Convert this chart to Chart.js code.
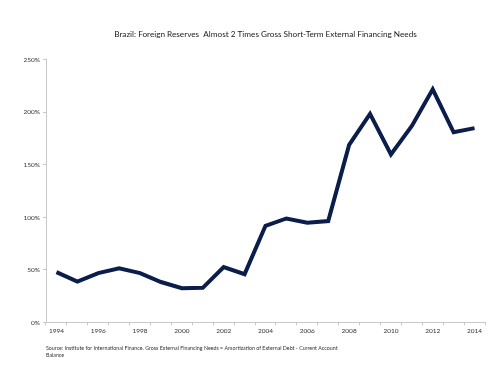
<!DOCTYPE html>
<html>
<head>
<meta charset="utf-8">
<script src="https://cdn.jsdelivr.net/npm/chart.js@4/dist/chart.umd.min.js"></script>
<style>
  html, body { margin: 0; padding: 0; background: #fff; }
  #chart { display: block; }
</style>
</head>
<body>
<canvas id="chart" width="500" height="375"></canvas>
<script>
// data
var years = ['1994', '1995', '1996', '1997', '1998', '1999', '2000', '2001', '2002', '2003', '2004',
             '2005', '2006', '2007', '2008', '2009', '2010', '2011', '2012', '2013', '2014'];
var reserveRatio = [48, 39, 47, 51.5, 47, 38.5, 32.7, 33, 52.8, 46, 92,
                    99, 95, 96.5, 169, 198.5, 160, 187, 222, 181, 185];
var yTicks = [0, 50, 100, 150, 200, 250];

var titleText = 'Brazil: Foreign Reserves  Almost 2 Times Gross Short-Term External Financing Needs';
var sourceText = [
    'Source: Institute for International Finance. Gross External Financing Needs = Amortization of External Debt - Current Account',
    'Balance'
];

var fontFamily = 'Lato, "Open Sans", sans-serif';

var ctx = document.getElementById('chart');
var chart = new Chart(ctx, {
    type: 'line',
    data: {
        labels: years,
        datasets: [{
            label: 'Reserves / Gross short-term external financing needs',
            data: reserveRatio,
            borderColor: '#0b1d4b',
            borderWidth: 4,
            pointRadius: 0,
            tension: 0,
            fill: false
        }]
    },
    options: {
        responsive: false,
        animation: false,
        layout: {
            padding: { left: 0, right: 15, top: 0, bottom: 17 }
        },
        plugins: {
            legend: { display: false },
            tooltip: { enabled: false },
            title: {
                display: true,
                text: titleText,
                fullSize: false,
                color: '#1a1a1a',
                font: { family: fontFamily, size: 8.2, weight: 'normal' },
                padding: { top: 29, bottom: 21 }
            },
            subtitle: {
                display: true,
                text: sourceText,
                position: 'bottom',
                align: 'start',
                fullSize: false,
                color: '#333',
                font: { family: fontFamily, size: 5.3, weight: 'normal' },
                padding: { top: 8, bottom: 0 }
            }
        },
        scales: {
            x: {
                offset: true,
                border: { color: '#c8c8c8', width: 1 },
                grid: {
                    display: true,
                    offset: true,
                    drawOnChartArea: false,
                    drawTicks: true,
                    tickLength: 3,
                    color: '#c8c8c8'
                },
                ticks: {
                    autoSkip: false,
                    maxRotation: 0,
                    padding: 2,
                    color: '#333',
                    font: { family: fontFamily, size: 6.5 },
                    callback: function (value, index) {
                        return index % 2 === 0 ? years[index] : '';
                    }
                }
            },
            y: {
                min: 0,
                max: 250,
                afterBuildTicks: function (axis) {
                    axis.ticks = yTicks.map(function (v) { return { value: v }; });
                },
                afterFit: function (axis) {
                    axis.width = 46;
                },
                border: { color: '#c8c8c8', width: 1 },
                grid: {
                    display: true,
                    drawOnChartArea: false,
                    drawTicks: true,
                    tickLength: 3,
                    color: '#c8c8c8'
                },
                ticks: {
                    padding: 3,
                    color: '#333',
                    font: { family: fontFamily, size: 6.5 },
                    callback: function (value) { return value + '%'; }
                }
            }
        }
    }
});
</script>
</body>
</html>
